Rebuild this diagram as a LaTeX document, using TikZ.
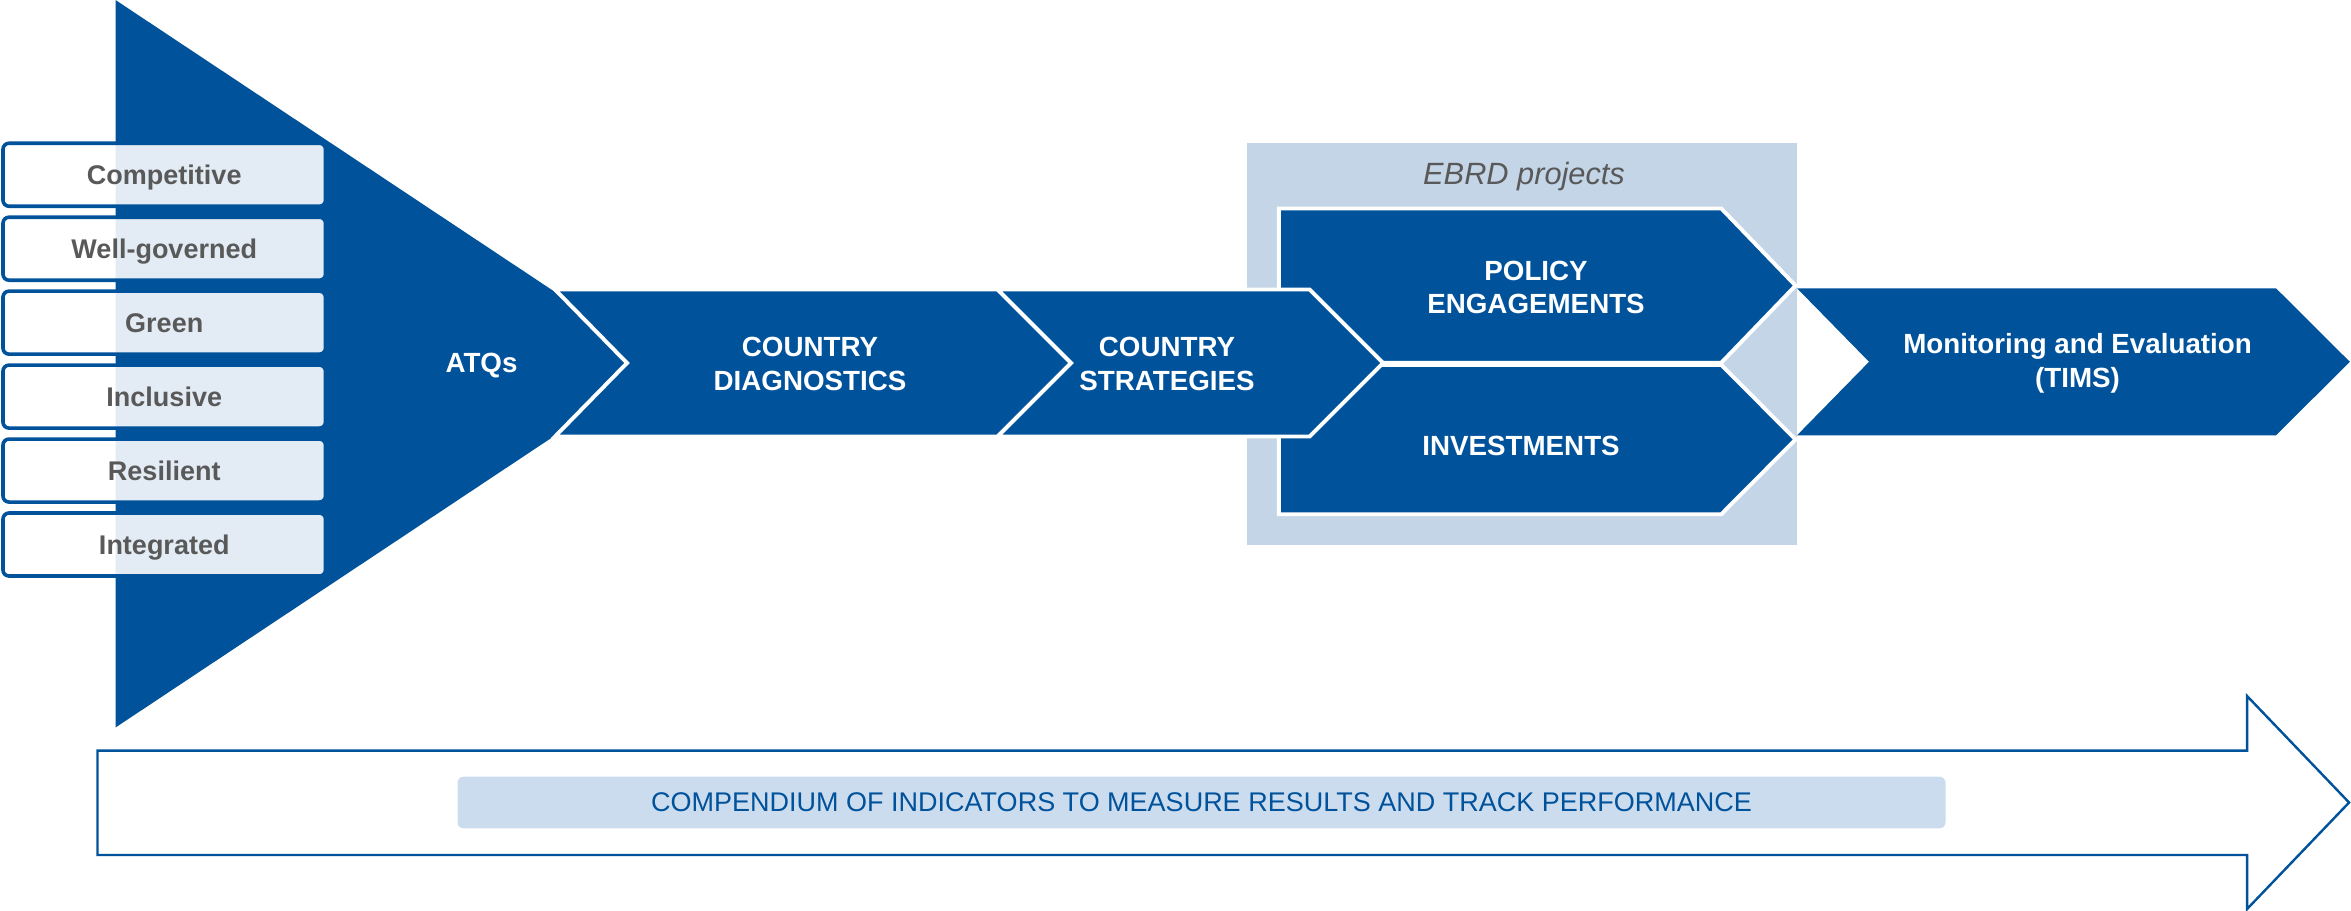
\documentclass[tikz,border=0pt]{standalone}
\usepackage{fontspec}
\setmainfont{Liberation Sans}
\definecolor{ebrdblue}{HTML}{00529B}
\definecolor{projgrey}{HTML}{C3D5E6}
\definecolor{barblue}{HTML}{CCDCEF}
\definecolor{txtgrey}{HTML}{595959}
\tikzset{
  chev/.style={fill=ebrdblue,draw=white,line width=2.6pt,line join=miter},
  wlbl/.style={text=white,align=center,inner sep=0pt,font=\bfseries\fontsize{18.5}{22.5}\selectfont},
  pillar/.style={draw=ebrdblue,line width=2.4pt,fill=white,fill opacity=0.89,text opacity=1,
    rounded corners=4pt,minimum width=215pt,minimum height=42pt,inner sep=0pt,
    text height=14pt,text depth=1.1pt,
    text=txtgrey,font=\bfseries\fontsize{18}{22}\selectfont}
}
\begin{document}
\begin{tikzpicture}[x=1pt,y=-1pt]
				\useasboundingbox (0,0) rectangle (1567.3,606.7);
				% EBRD projects panel
				\fill[projgrey] (831.6,95.3) rectangle (1198,363);
				\node[font=\itshape\fontsize{20.5}{24}\selectfont,text=txtgrey] (ebrd) at (1016,118) {EBRD projects};
				% big triangle and the six pillars
				\fill[ebrdblue] (77,0) -- (442,242.5) -- (77,485) -- cycle;
				\foreach \name [count=\i from 0] in {Competitive,Well-governed,Green,Inclusive,Resilient,Integrated}
					\node[pillar] (p\i) at (109.5,{116.5+49.3*\i}) {\name};
				% project chevrons
				\filldraw[chev] (852.6,139) -- (1147.5,139) -- (1197,190.4) -- (1147.5,241.8) -- (852.6,241.8) -- cycle;
				\filldraw[chev] (852.6,243.2) -- (1147.5,243.2) -- (1197,293) -- (1147.5,342.8) -- (852.6,342.8) -- cycle;
				\fill[ebrdblue] (1198,192.2) -- (1517.3,192.2) -- (1566.5,241.2) -- (1517.3,290.2) -- (1198,290.2) -- (1246,241.2) -- cycle;
				\filldraw[chev] (370,193) -- (665,193) -- (714,242) -- (665,291) -- (370,291) -- (418,242) -- cycle;
				\filldraw[chev] (665,193) -- (873,193) -- (922,242) -- (873,291) -- (665,291) -- (714,242) -- cycle;
				\node[wlbl] (atq) at (321,243.5) {ATQs};
				\node[wlbl] (diag) at (540,242.5) {COUNTRY\\DIAGNOSTICS};
				\node[wlbl] (strat) at (778,242.5) {COUNTRY\\STRATEGIES};
				\node[wlbl] (policy) at (1024,191.7) {POLICY\\ENGAGEMENTS};
				\node[wlbl] (invest) at (1014,297) {INVESTMENTS};
				\node[wlbl] (mande) at (1385,242) {Monitoring and Evaluation\\(TIMS)};
				% bottom arrow
				\draw[ebrdblue,line width=1.6pt,line join=miter] (65,500.4) -- (1498,500.4) -- (1498,464) -- (1566,535) -- (1498,606) -- (1498,570) -- (65,570) -- cycle;
				\node[fill=barblue,rounded corners=4pt,minimum width=992pt,minimum height=34.4pt,inner sep=0pt,
					text=ebrdblue,font=\fontsize{18}{22}\selectfont] (bar) at (801,535) {COMPENDIUM OF INDICATORS TO MEASURE RESULTS AND TRACK PERFORMANCE};
			\end{tikzpicture}
\end{document}
